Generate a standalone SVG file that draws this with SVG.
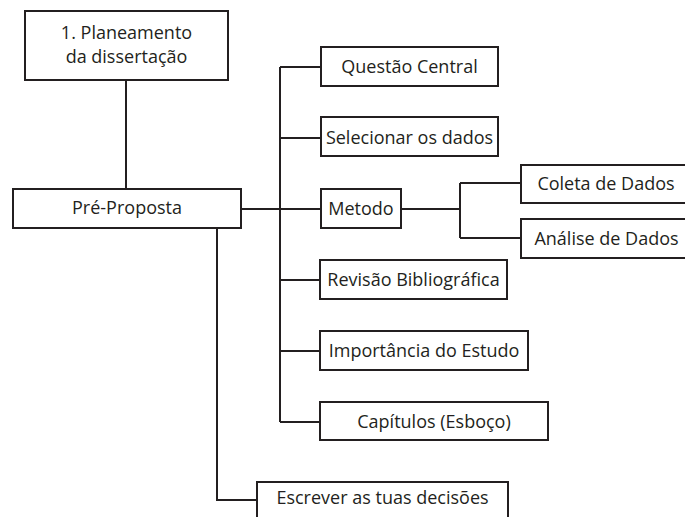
<svg xmlns="http://www.w3.org/2000/svg" width="685" height="517" viewBox="0 0 685 517">
<style>
.box{fill:#fff;stroke:#231f20;stroke-width:2}
.ln{fill:none;stroke:#231f20;stroke-width:2}
text{font-family:"Open Sans","Liberation Sans",sans-serif;font-size:18px;fill:#231f20;text-anchor:middle}
</style>
<rect width="685" height="517" fill="#fff"/>
<g id="connectors">
<path class="ln" d="M126,80 V189"/>
<path class="ln" d="M241,209 H321"/>
<path class="ln" d="M280,67 V422"/>
<path class="ln" d="M280,67 H321 M280,138 H321 M280,280 H320 M280,351 H320 M280,422 H320"/>
<path class="ln" d="M401,209 H460 M460,183 V238 M460,183 H521 M460,238 H521"/>
<path class="ln" d="M217,228 V500 H257"/>
</g>
<g id="n-planeamento"><rect class="box" x="25" y="11" width="203" height="69"/><text x="126.5" y="39">1. Planeamento</text><text x="126.5" y="63">da dissertação</text></g>
<g id="n-preproposta"><rect class="box" x="13" y="189" width="228" height="39"/><text x="127" y="214">Pré-Proposta</text></g>
<g id="n-questao"><rect class="box" x="321" y="47" width="177" height="39"/><text x="409.5" y="73">Questão Central</text></g>
<g id="n-selecionar"><rect class="box" x="321" y="117" width="177" height="39"/><text x="409.5" y="144">Selecionar os dados</text></g>
<g id="n-metodo"><rect class="box" x="321" y="189" width="80" height="39"/><text x="361" y="215">Metodo</text></g>
<g id="n-coleta"><rect class="box" x="521" y="165" width="170" height="38"/><text x="606" y="190">Coleta de Dados</text></g>
<g id="n-analise"><rect class="box" x="521" y="219" width="170" height="39"/><text x="606.5" y="245">Análise de Dados</text></g>
<g id="n-revisao"><rect class="box" x="320" y="260" width="187" height="39"/><text x="413.5" y="286">Revisão Bibliográfica</text></g>
<g id="n-importancia"><rect class="box" x="320" y="331" width="208" height="39"/><text x="424" y="357">Importância do Estudo</text></g>
<g id="n-capitulos"><rect class="box" x="320" y="402" width="228" height="38"/><text x="434" y="428">Capítulos (Esboço)</text></g>
<g id="n-escrever"><rect class="box" x="257" y="482" width="251" height="45"/><text x="382.5" y="504">Escrever as tuas decisões</text></g>
</svg>
